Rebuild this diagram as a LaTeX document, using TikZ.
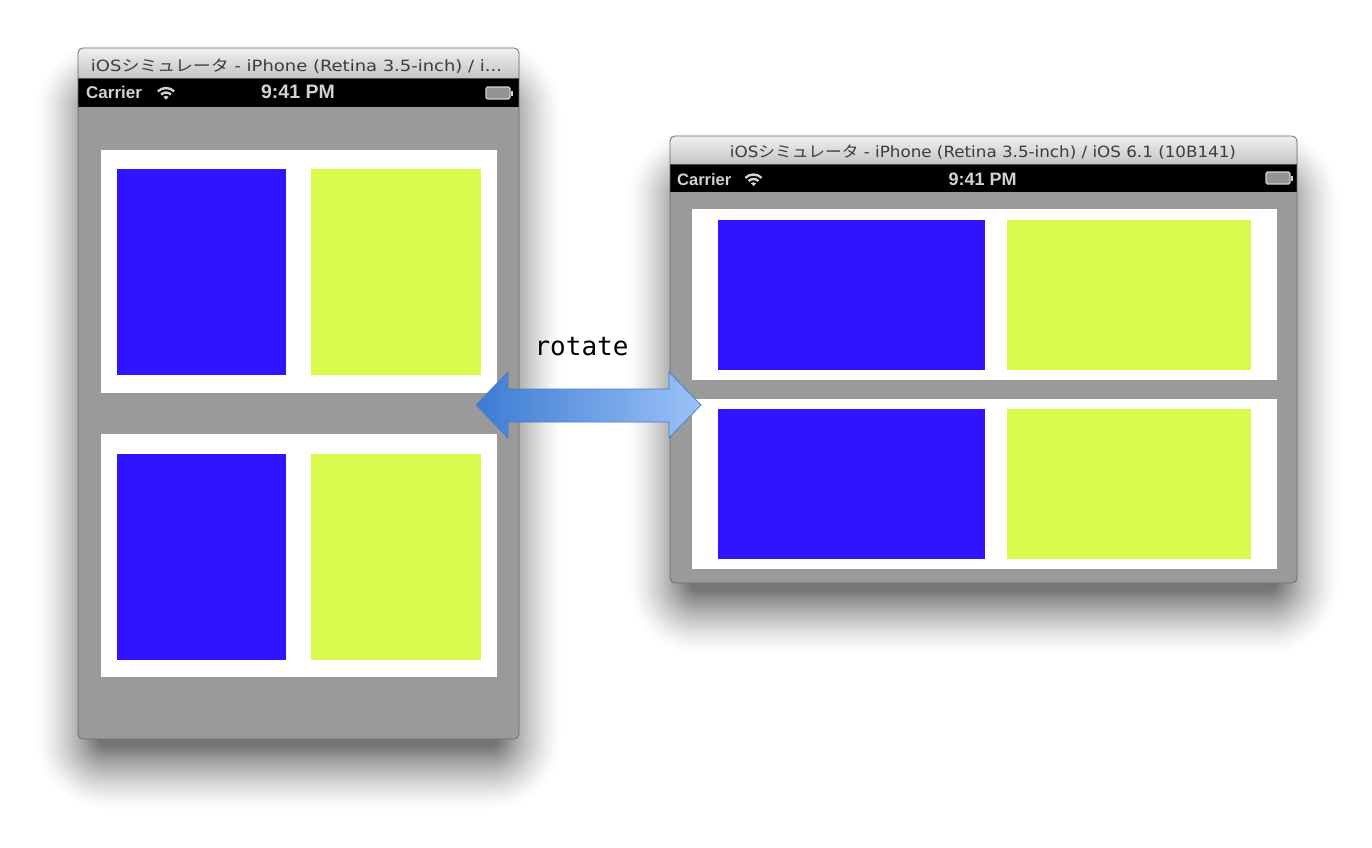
\documentclass[tikz,border=0pt]{standalone}
\usepackage{fontspec}
\newfontfamily\titlefont{DejaVu Sans}
\newfontfamily\kanafont{Noto Sans CJK JP}
\newfontfamily\barfont{Liberation Sans}
\newfontfamily\labelfont{DejaVu Sans Mono}

\definecolor{screengray}{HTML}{9A9A9A}
\definecolor{frameline}{HTML}{6C6C6C}
\definecolor{titletop}{HTML}{F0F0F0}
\definecolor{titlebottom}{HTML}{C4C4C4}
\definecolor{titleink}{HTML}{3C3C3C}
\definecolor{barink}{HTML}{D2D2D2}
\definecolor{tileblue}{HTML}{3014FF}
\definecolor{tileyellow}{HTML}{D8FA4D}
\definecolor{arrowdark}{HTML}{3C7BD2}
\definecolor{arrowlight}{HTML}{9CC2F8}
\definecolor{arrowedge}{HTML}{4A7FC4}

\tikzset{
  wintitle/.style={font=\titlefont\fontsize{15.5}{15.5}\selectfont, text=titleink, anchor=base, inner sep=0pt},
  bartext/.style={font=\barfont\bfseries\fontsize{17}{17}\selectfont, text=barink, anchor=base, inner sep=0pt},
  wifiarc/.style={draw=barink, line width=2.4pt},
  battbox/.style={draw=barink, line width=1.1pt, fill=black!30!barink, rounded corners=1.5pt},
  panel/.style={fill=white},
  bluetile/.style={fill=tileblue},
  yellowtile/.style={fill=tileyellow},
  rotlabel/.style={font=\labelfont\fontsize{26}{26}\selectfont, text=black, anchor=base, inner sep=0pt},
}

% soft drop shadow under a window given by its corners:
% nested rounded rectangles, lightest (largest) first
\newcommand\dropshadow[4]{%
  \foreach \e in {62,60,...,0}{%
    \pgfmathsetmacro\rr{8+\e}%
    \pgfmathsetmacro\pp{54*(1-\e/64)^1.4}%
    \fill[black!\pp!white, rounded corners=\rr pt]
      ({#1+20-\e},{#2+55-\e}) rectangle ({#3-20+\e},{#4+8+\e});
  }}

% wifi fan with its apex at (#1,#2)
\newcommand\wifisign[2]{%
  \draw[wifiarc] (#1,#2) ++(225:11.5) arc[start angle=225,end angle=315,radius=11.5];
  \draw[wifiarc] (#1,#2) ++(225:7) arc[start angle=225,end angle=315,radius=7];
  \fill[barink] (#1,#2) -- ++(225:3.8) arc[start angle=225,end angle=315,radius=3.8] -- cycle;
}

% battery icon with its upper left corner at (#1,#2)
\newcommand\batterysign[2]{%
  \draw[battbox] (#1,#2) rectangle ({#1+24},{#2+12});
  \fill[barink] ({#1+24.5},{#2+3.5}) rectangle ({#1+27},{#2+8.5});
}

\begin{document}
\begin{tikzpicture}[x=1pt,y=-1pt]
\useasboundingbox[fill=white] (0,0) rectangle (1372,847);

% ---------- shadows ----------
\dropshadow{78}{48}{519}{739}
\dropshadow{670}{136}{1297}{583}

% ---------- portrait window ----------
\begin{scope}
  \fill[screengray, rounded corners=5pt] (78,48) rectangle (519,739);
  \clip[rounded corners=5pt] (78,48) rectangle (519,739);
  \shade[top color=titletop, bottom color=titlebottom] (78,48) rectangle (519,78);
  \fill[black] (78,78) rectangle (519,106.5);
\end{scope}
\draw[frameline, line width=0.8pt, rounded corners=5pt] (78,48) rectangle (519,739);
\draw[frameline!70!black, line width=0.6pt] (78,78) -- (519,78);

\node[wintitle] (ptitle) at (296.5,71) {\resizebox{411pt}{\height}{iOS{\kanafont シミュレータ} - iPhone (Retina 3.5-inch) / i...}};
\node[bartext, anchor=base west] (pcarrier) at (86,98.3) {Carrier};
\node[bartext, font=\barfont\bfseries\fontsize{19.5}{19.5}\selectfont] (ptime) at (298,98.3) {9:41 PM};
\wifisign{166}{99.5}
\batterysign{486}{87}

\fill[panel] (101,150) rectangle (497,393);
\fill[bluetile] (117,169) rectangle (286,375);
\fill[yellowtile] (311,169) rectangle (481,375);
\fill[panel] (101,434) rectangle (497,677);
\fill[bluetile] (117,454) rectangle (286,660);
\fill[yellowtile] (311,454) rectangle (481,660);

% ---------- landscape window ----------
\begin{scope}
  \fill[screengray, rounded corners=5pt] (670,136) rectangle (1297,583);
  \clip[rounded corners=5pt] (670,136) rectangle (1297,583);
  \shade[top color=titletop, bottom color=titlebottom] (670,136) rectangle (1297,164.5);
  \fill[black] (670,164.5) rectangle (1297,192);
\end{scope}
\draw[frameline, line width=0.8pt, rounded corners=5pt] (670,136) rectangle (1297,583);
\draw[frameline!70!black, line width=0.6pt] (670,164.5) -- (1297,164.5);

\node[wintitle] (ltitle) at (983,157) {\resizebox{506pt}{\height}{iOS{\kanafont シミュレータ} - iPhone (Retina 3.5-inch) / iOS 6.1 (10B141)}};
\node[bartext, anchor=base west, font=\barfont\bfseries\fontsize{16.5}{16.5}\selectfont] (lcarrier) at (677,185) {Carrier};
\node[bartext, font=\barfont\bfseries\fontsize{18}{18}\selectfont] (ltime) at (982.5,185) {9:41 PM};
\wifisign{753.5}{186}
\batterysign{1266}{172}

\fill[panel] (692,209) rectangle (1277,380);
\fill[bluetile] (718,220) rectangle (985,370);
\fill[yellowtile] (1007,220) rectangle (1251,370);
\fill[panel] (692,399) rectangle (1277,569);
\fill[bluetile] (718,409) rectangle (985,559);
\fill[yellowtile] (1007,409) rectangle (1251,559);

% ---------- rotate arrow ----------
\shade[left color=arrowdark, right color=arrowlight, line join=round]
  (476,405) -- (508,372) -- (508,389) -- (669,389) -- (669,372)
  -- (701,405) -- (669,438) -- (669,422) -- (508,422) -- (508,438) -- cycle;
\draw[arrowedge, line width=0.8pt, line join=round]
  (476,405) -- (508,372) -- (508,389) -- (669,389) -- (669,372)
  -- (701,405) -- (669,438) -- (669,422) -- (508,422) -- (508,438) -- cycle;
\node[rotlabel] (rot) at (581.5,355) {rotate};
\end{tikzpicture}
\end{document}
